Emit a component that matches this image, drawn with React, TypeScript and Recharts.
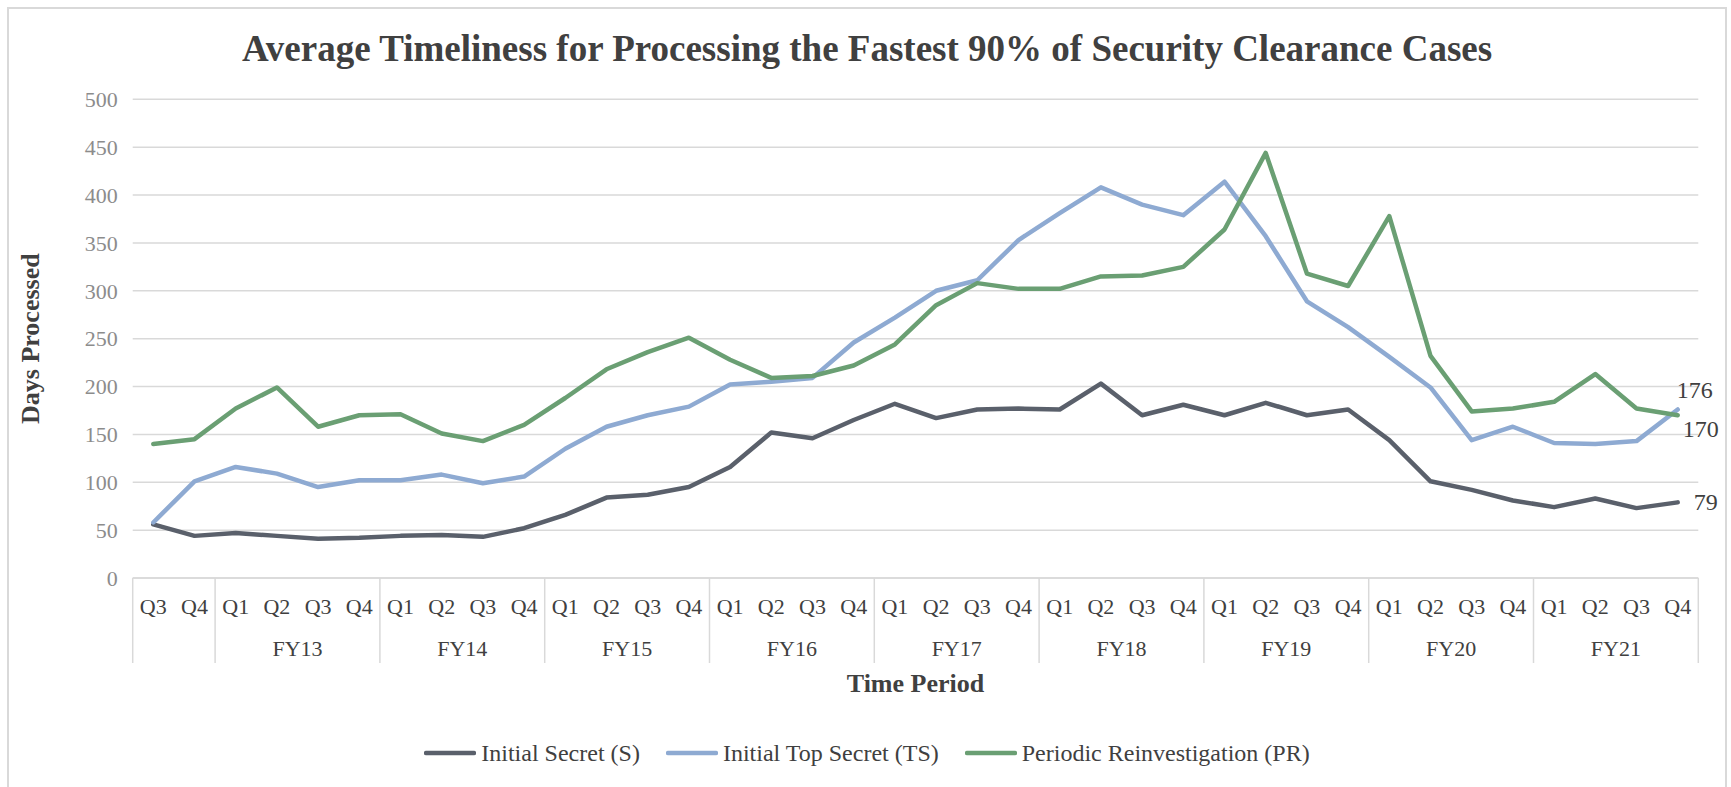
import React from 'react';
import { LineChart, Line, XAxis, YAxis, CartesianGrid, Legend, Label } from 'recharts';

const periods = [
  'FY12 Q3', 'FY12 Q4',
  'FY13 Q1', 'FY13 Q2', 'FY13 Q3', 'FY13 Q4',
  'FY14 Q1', 'FY14 Q2', 'FY14 Q3', 'FY14 Q4',
  'FY15 Q1', 'FY15 Q2', 'FY15 Q3', 'FY15 Q4',
  'FY16 Q1', 'FY16 Q2', 'FY16 Q3', 'FY16 Q4',
  'FY17 Q1', 'FY17 Q2', 'FY17 Q3', 'FY17 Q4',
  'FY18 Q1', 'FY18 Q2', 'FY18 Q3', 'FY18 Q4',
  'FY19 Q1', 'FY19 Q2', 'FY19 Q3', 'FY19 Q4',
  'FY20 Q1', 'FY20 Q2', 'FY20 Q3', 'FY20 Q4',
  'FY21 Q1', 'FY21 Q2', 'FY21 Q3', 'FY21 Q4',
];

// fiscal-year groups whose label is left blank in the original
const unlabeledYears = ['FY12'];

const initialSecret = [56, 44, 47, 44, 41, 42, 44, 45, 43, 52, 66, 84, 87, 95, 116, 152, 146, 165, 182, 167, 176, 177, 176, 203, 170, 181, 170, 183, 170, 176, 144, 101, 92, 81, 74, 83, 73, 79];
const initialTopSecret = [58, 101, 116, 109, 95, 102, 102, 108, 99, 106, 135, 158, 170, 179, 202, 205, 209, 246, 272, 300, 311, 353, 381, 408, 390, 379, 414, 357, 289, 262, 231, 199, 144, 158, 141, 140, 143, 176];
const periodicReinvestigation = [140, 145, 177, 199, 158, 170, 171, 151, 143, 160, 188, 218, 236, 251, 228, 209, 211, 222, 244, 285, 308, 302, 302, 315, 316, 325, 364, 444, 318, 305, 378, 232, 174, 177, 184, 213, 177, 170];

const yTicks = [0, 50, 100, 150, 200, 250, 300, 350, 400, 450, 500];

const series = [
  { key: 's', name: 'Initial Secret (S)', color: '#5a606b', endDx: 28, endDy: 8 },
  { key: 'ts', name: 'Initial Top Secret (TS)', color: '#8eaad2', endDx: 17, endDy: -11 },
  { key: 'pr', name: 'Periodic Reinvestigation (PR)', color: '#6a9f73', endDx: 23, endDy: 22 },
];

const data = periods.map((p, i) => ({
  period: p,
  s: initialSecret[i],
  ts: initialTopSecret[i],
  pr: periodicReinvestigation[i],
}));

const FONT = "'Liberation Serif', 'Times New Roman', Times, serif";
const W = 1716;
const H = 778;
const MARGIN = { top: 90.3, right: 26.7, bottom: 109, left: 63.7 };
const Y_W = 60;
const X_H = 100;
const PLOT_W = W - MARGIN.left - Y_W - MARGIN.right;
const BAND = PLOT_W / periods.length;
const GRID = '#d9d9d9';
const TEXT = '#404040';

const yearOf = (p: string) => p.split(' ')[0];
const quarterOf = (p: string) => p.split(' ')[1];

function PeriodTick(props: any) {
  const { x, y, payload } = props;
  const value: string = payload.value;
  const i = periods.indexOf(value);
  const fy = yearOf(value);
  const isFirst = i === 0 || yearOf(periods[i - 1]) !== fy;
  const isLast = i === periods.length - 1;
  const groupSize = periods.filter((p) => yearOf(p) === fy).length;
  return (
    <g>
      <text x={x} y={y + 36} textAnchor="middle" fontSize={22} fill={TEXT} style={{ fontFamily: FONT }}>
        {quarterOf(value)}
      </text>
      {isFirst && (
        <line x1={x - BAND / 2} x2={x - BAND / 2} y1={y} y2={y + 85} stroke={GRID} strokeWidth={1.5} />
      )}
      {isLast && (
        <line x1={x + BAND / 2} x2={x + BAND / 2} y1={y} y2={y + 85} stroke={GRID} strokeWidth={1.5} />
      )}
      {isFirst && !unlabeledYears.includes(fy) && (
        <text
          x={x + ((groupSize - 1) / 2) * BAND}
          y={y + 78}
          textAnchor="middle"
          fontSize={22}
          fill={TEXT}
          style={{ fontFamily: FONT }}
        >
          {fy}
        </text>
      )}
    </g>
  );
}

function LegendContent() {
  return (
    <div
      style={{
        display: 'flex',
        justifyContent: 'center',
        alignItems: 'center',
        gap: 26,
        fontFamily: FONT,
        fontSize: 24,
        color: TEXT,
        lineHeight: '24px',
        height: 24,
      }}
    >
      {series.map((s) => (
        <div key={s.key} style={{ display: 'flex', alignItems: 'center', fontFamily: FONT }}>
          <svg width={52} height={10} style={{ marginRight: 5 }}>
            <line x1={2} x2={50} y1={5} y2={5} stroke={s.color} strokeWidth={4.5} strokeLinecap="round" />
          </svg>
          <span style={{ fontFamily: FONT }}>{s.name}</span>
        </div>
      ))}
    </div>
  );
}

function makeEndLabel(s: (typeof series)[number]) {
  return (props: any) => {
    const { x, y, index, value } = props;
    if (index !== periods.length - 1) return <g />;
    return (
      <text x={x + s.endDx} y={y + s.endDy} textAnchor="middle" fontSize={24} fill={TEXT} style={{ fontFamily: FONT }}>
        {value}
      </text>
    );
  };
}

export default function App() {
  return (
    <div
      style={{
        position: 'fixed',
        left: 7,
        top: 7,
        width: W,
        height: 790,
        border: `2px solid ${GRID}`,
        borderBottom: 'none',
        background: '#fff',
        fontFamily: FONT,
      }}
    >
      <div
        style={{
          position: 'absolute',
          top: 21,
          left: 0,
          width: W,
          textAlign: 'center',
          fontSize: 37,
          lineHeight: '37px',
          fontWeight: 'bold',
          color: TEXT,
          fontFamily: FONT,
          whiteSpace: 'nowrap',
        }}
      >
        Average Timeliness for Processing the Fastest 90% of Security Clearance Cases
      </div>
      <LineChart width={W} height={H} data={data} margin={MARGIN}>
        <CartesianGrid vertical={false} stroke={GRID} strokeWidth={1.5} />
        <XAxis
          dataKey="period"
          interval={0}
          tickLine={false}
          tickSize={0}
          tickMargin={0}
          height={X_H}
          padding={{ left: BAND / 2, right: BAND / 2 }}
          axisLine={{ stroke: GRID, strokeWidth: 1.5 }}
          tick={<PeriodTick />}
        >
          <Label
            content={(p: any) => {
              const vb = p.viewBox;
              return (
                <text
                  x={vb.x + vb.width / 2}
                  y={vb.y + 113.6}
                  textAnchor="middle"
                  fontSize={26}
                  fontWeight="bold"
                  fill={TEXT}
                  style={{ fontFamily: FONT }}
                >
                  Time Period
                </text>
              );
            }}
          />
        </XAxis>
        <YAxis
          width={Y_W}
          domain={[0, 500]}
          ticks={yTicks}
          interval={0}
          axisLine={false}
          tickLine={false}
          tickSize={0}
          tickMargin={15}
          tick={{ fontSize: 22, fill: '#8c8c8c', style: { fontFamily: FONT } }}
        >
          <Label
            content={(p: any) => {
              const vb = p.viewBox;
              const cx = vb.x - 34;
              const cy = vb.y + vb.height / 2;
              return (
                <text
                  x={cx}
                  y={cy}
                  transform={`rotate(-90, ${cx}, ${cy})`}
                  textAnchor="middle"
                  fontSize={26}
                  fontWeight="bold"
                  fill={TEXT}
                  style={{ fontFamily: FONT }}
                >
                  Days Processed
                </text>
              );
            }}
          />
        </YAxis>
        <Legend
          layout="horizontal"
          verticalAlign="middle"
          align="center"
          wrapperStyle={{ top: 732, left: 0, width: W, height: 24, fontFamily: FONT }}
          content={() => <LegendContent />}
        />
        {series.map((s) => (
          <Line
            key={s.key}
            type="linear"
            dataKey={s.key}
            name={s.name}
            stroke={s.color}
            strokeWidth={4.5}
            strokeLinejoin="round"
            strokeLinecap="round"
            dot={false}
            activeDot={false}
            isAnimationActive={false}
            label={makeEndLabel(s)}
          />
        ))}
      </LineChart>
    </div>
  );
}
